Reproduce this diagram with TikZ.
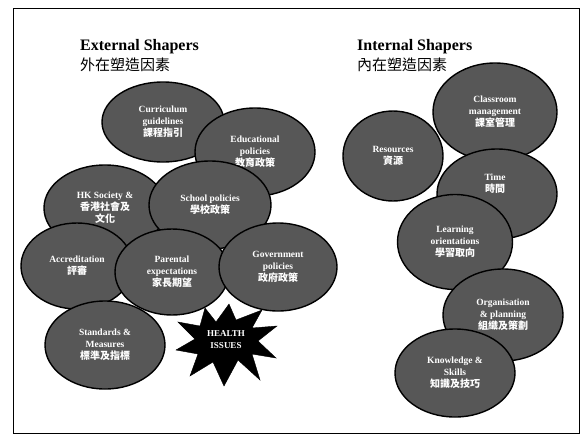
\documentclass[tikz,border=0pt]{standalone}
\usepackage{fontspec}
\setmainfont{Liberation Serif}
\newfontfamily\cjk{Noto Sans CJK TC}
\usetikzlibrary{shapes.geometric}
\tikzset{
  shaper/.style={ellipse, draw=black, line width=1.4pt, fill=black!66, text=white,
    inner sep=0pt, align=center, font=\bfseries\fontsize{9.5}{12}\selectfont},
  lbl/.style={text=white, inner sep=0pt, align=center, font=\bfseries\fontsize{9.5}{12}\selectfont},
  title/.style={anchor=west, align=left, inner sep=0pt, font=\fontsize{16}{19}\selectfont},
  burst/.style={fill=black, draw=black, line join=miter}
}
\newcommand{\zh}[1]{{\cjk\fontsize{10}{12}\selectfont #1}}
\begin{document}
\begin{tikzpicture}[x=1pt,y=-1pt]
\useasboundingbox (0,0) rectangle (584,437);
\fill[white] (0,0) rectangle (584,437);
\draw[line width=1pt] (13,8) rectangle (579,433);

\node[title] (ext) at (80,56) {\textbf{External Shapers}\\[1pt]{\cjk\fontsize{15}{18}\selectfont 外在塑造因素}};
\node[title] (int) at (357,56) {\textbf{Internal Shapers}\\[1pt]{\cjk\fontsize{15}{18}\selectfont 內在塑造因素}};

% External shapers
\node[shaper, minimum width=122pt, minimum height=80pt] (curr) at (163,122) {Curriculum\\guidelines\\\zh{課程指引}};
\node[shaper, minimum width=120pt, minimum height=88pt] (edu) at (255,152) {Educational\\policies\\\zh{教育政策}};
\node[shaper, minimum width=122pt, minimum height=86pt] (hk) at (105,208) {HK Society \&\\\zh{香港社會及}\\\zh{文化}};
\node[shaper, minimum width=122pt, minimum height=88pt] (school) at (210,205) {School policies\\\zh{學校政策}};
\node[shaper, minimum width=112pt, minimum height=86pt] (accr) at (77,266) {Accreditation\\\zh{評審}};
\node[shaper, minimum width=114pt, minimum height=86pt] (par) at (172,272) {Parental\\expectations\\\zh{家長期望}};
\node[shaper, minimum width=118pt, minimum height=88pt] (gov) at (278,267) {Government\\policies\\\zh{政府政策}};
\node[shaper, minimum width=120pt, minimum height=88pt] (std) at (105,345) {Standards \&\\Measures\\\zh{標準及指標}};

% Internal shapers
\node[shaper, minimum width=100pt, minimum height=90pt] (res) at (393,156) {Resources\\\zh{資源}};
\node[shaper, minimum width=124pt, minimum height=98pt] (cls) at (495,112) {Classroom\\management\\\zh{課室管理}};
\node[shaper, minimum width=120pt, minimum height=90pt] (time) at (497,194) {};
\node[lbl] (timetxt) at (495,184) {Time\\\zh{時間}};
\node[shaper, minimum width=115pt, minimum height=95pt] (learn) at (455,242) {Learning\\orientations\\\zh{學習取向}};
\node[shaper, minimum width=120pt, minimum height=92pt] (org) at (503,315) {Organisation\\\& planning\\\zh{組織及策劃}};
\node[shaper, minimum width=120pt, minimum height=88pt] (know) at (455,373) {Knowledge \&\\Skills\\\zh{知識及技巧}};

% Health issues starburst
\fill[burst] (178,322) -- (200,326) -- (205,308) -- (216,322) -- (229,304) -- (236,320)
  -- (262,310) -- (252,328) -- (277,326) -- (258,341) -- (276,358) -- (252,354)
  -- (260,380) -- (238,360) -- (224,386) -- (213,362) -- (190,376) -- (198,354)
  -- (176,350) -- (195,339) -- cycle;
\node[inner sep=0pt, text=white, align=center, font=\bfseries\fontsize{9}{12}\selectfont] (health) at (226,340) {HEALTH\\ISSUES};
\end{tikzpicture}
\end{document}
